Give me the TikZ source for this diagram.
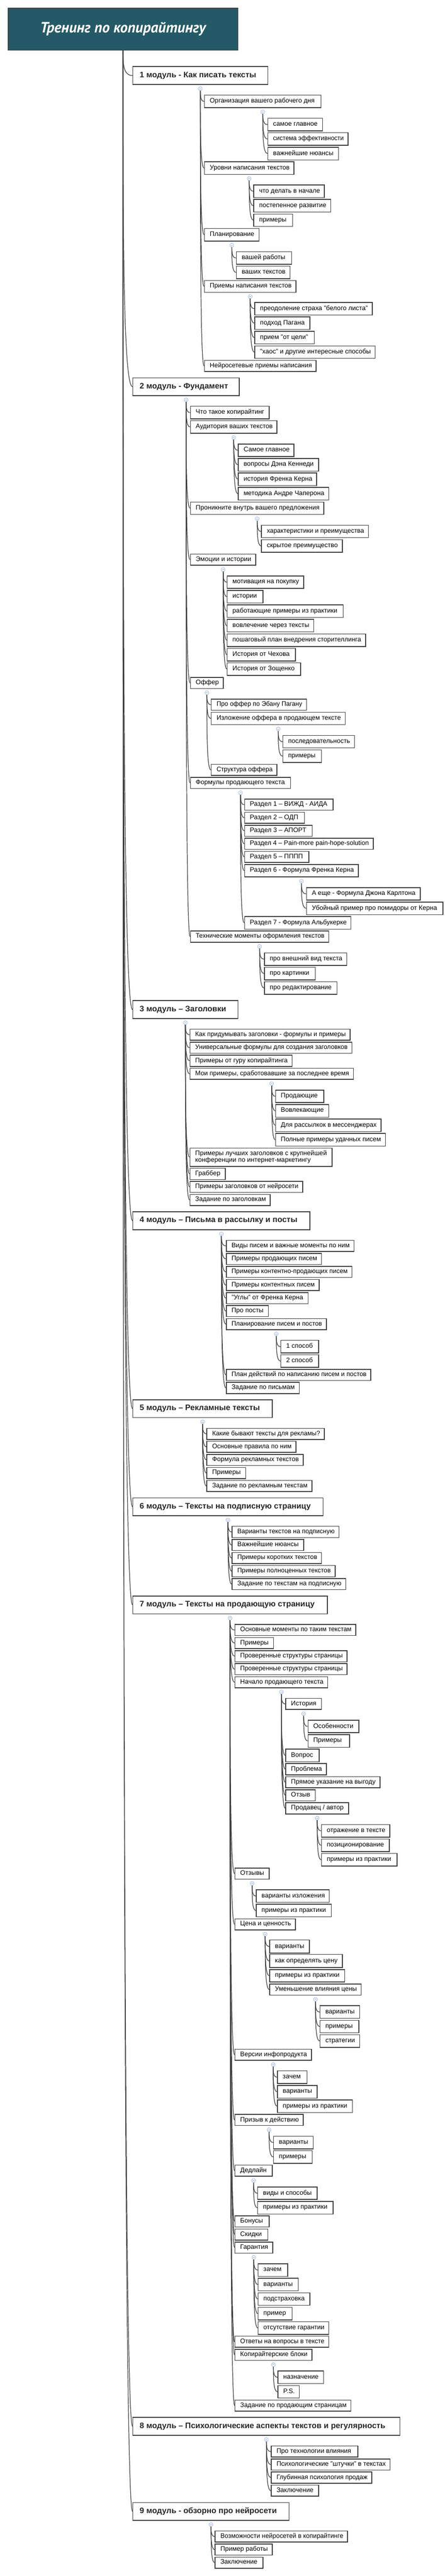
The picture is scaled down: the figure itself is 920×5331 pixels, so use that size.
\documentclass[tikz,border=0pt]{standalone}
\usepackage{fontspec}
\usepackage{graphicx}
\setmainfont{Liberation Sans}
\newfontfamily\titlefont{PT Sans}
\usetikzlibrary{calc}
\definecolor{linec}{HTML}{404040}
\definecolor{rootfill}{HTML}{245A67}
\definecolor{mkc}{HTML}{9DB1D8}
\newsavebox\tbox
\newcommand\fitt[2]{\sbox\tbox{#2}\ifdim\wd\tbox>#1\relax\resizebox{#1}{\height}{\usebox\tbox}\else\usebox\tbox\fi}
\tikzset{
 bx/.style={draw=linec, line width=1.6pt, fill=white, inner sep=0pt, anchor=north west, font=\fontsize{13.5}{16}\selectfont, text=black},
 bmod/.style={bx, font=\bfseries\fontsize{16.5}{19}\selectfont, text=black!85},
 cn/.style={draw=linec, line width=1.3pt, to path={.. controls ($(\tikztostart)!0.5!(\tikztostart|-\tikztotarget)$) and (\tikztostart|-\tikztotarget) .. (\tikztotarget)}},
 mk/.style={draw=mkc, line width=0.8pt}
}
\newcommand\bx[6]{\node[bx, minimum height={#5-#3}] (#1) at (#2,#3) {\makebox[\dimexpr#4pt-#2pt\relax][l]{\hspace{11pt}\rule[-3.5pt]{0pt}{13pt}\fitt{\dimexpr#4pt-#2pt-20pt\relax}{#6}}};}
\newcommand\bmd[6]{\node[bmod, minimum height={#5-#3}] (#1) at (#2,#3) {\makebox[\dimexpr#4pt-#2pt\relax][l]{\hspace{14pt}\rule[-4.5pt]{0pt}{16.5pt}\fitt{\dimexpr#4pt-#2pt-26pt\relax}{#6}}};}
\newcommand\kids[2]{\coordinate (#1-s) at ($(#1.south)+(0,8)$);
 \foreach \kid in {#2}{\draw[cn] (#1-s) to (\kid.west);}
 \draw[mk, fill=white] (#1-s) circle (4pt);
 \draw[mk] ($(#1-s)+(-2,0)$) -- ($(#1-s)+(2,0)$);}
\begin{document}
\begin{tikzpicture}[x=1pt,y=-1pt]
\fill[white] (0,0) rectangle (920,5331);
\useasboundingbox (0,0) rectangle (920,5331);
% root
\node[draw=linec, line width=1.6pt, fill=rootfill, inner sep=0pt, anchor=north west, minimum width=475pt, minimum height=87pt, text=white, font=\titlefont\bfseries\itshape\fontsize{31}{36}\selectfont] (root) at (16,16) {Тренинг по копирайтингу};
% modules
\bmd{m1}{274}{137}{553}{174}{1 модуль - Как писать тексты}
\bmd{m2}{274}{781}{494}{818}{2 модуль - Фундамент}
\bmd{m3}{274}{2070}{491}{2107}{3 модуль – Заголовки}
\bmd{m4}{274}{2507}{640}{2544}{4 модуль – Письма в рассылку и посты}
\bmd{m5}{274}{2896}{562}{2933}{5 модуль – Рекламные тексты}
\bmd{m6}{274}{3099}{667}{3136}{6 модуль – Тексты на подписную страницу}
\bmd{m7}{274}{3302}{676}{3339}{7 модуль – Тексты на продающую страницу}
\bmd{m8}{274}{5002}{826}{5039}{8 модуль – Психологические аспекты текстов и регулярность}
\bmd{m9}{274}{5178}{597}{5215}{9 модуль - обзорно про нейросети}
% module 1
\bx{a1}{422}{196}{663}{222}{Организация вашего рабочего дня}
\bx{a1a}{553}{244}{666}{270}{самое главное}
\bx{a1b}{553}{274}{719}{300}{система эффективности}
\bx{a1c}{553}{304}{699}{330}{важнейшие нюансы}
\bx{a2}{422}{334}{607}{360}{Уровни написания текстов}
\bx{a2a}{524}{382}{670}{408}{что делать в начале}
\bx{a2b}{524}{412}{683}{438}{постепенное развитие}
\bx{a2c}{524}{442}{604}{468}{примеры}
\bx{a3}{422}{472}{535}{498}{Планирование}
\bx{a3a}{488}{520}{602}{546}{вашей работы}
\bx{a3b}{488}{550}{599}{576}{ваших текстов}
\bx{a4}{422}{580}{611}{604}{Приемы написания текстов}
\bx{a4a}{526}{625}{769}{651}{преодоление страха "белого листа"}
\bx{a4b}{526}{655}{640}{681}{подход Пагана}
\bx{a4c}{526}{685}{649}{711}{прием "от цели"}
\bx{a4d}{526}{715}{775}{741}{"хаос" и другие интересные способы}
\bx{a5}{422}{745}{653}{768}{Нейросетевые приемы написания}
% module 2
\bx{b1}{393}{840}{556}{866}{Что такое копирайтинг}
\bx{b2}{393}{870}{572}{896}{Аудитория ваших текстов}
\bx{b2a}{492}{918}{607}{944}{Самое главное}
\bx{b2b}{492}{948}{658}{974}{вопросы Дэна Кеннеди}
\bx{b2c}{492}{978}{654}{1004}{история Френка Керна}
\bx{b2d}{492}{1008}{679}{1034}{методика Андре Чаперона}
\bx{b3}{393}{1038}{669}{1064}{Проникните внутрь вашего предложения}
\bx{b3a}{540}{1086}{761}{1112}{характеристики и преимущества}
\bx{b3b}{540}{1116}{707}{1142}{скрытое преимущество}
\bx{b4}{393}{1146}{528}{1169}{Эмоции и истории}
\bx{b4a}{469}{1191}{627}{1217}{мотивация на покупку}
\bx{b4b}{469}{1221}{543}{1247}{истории}
\bx{b4c}{469}{1251}{709}{1277}{работающие примеры из практики}
\bx{b4d}{469}{1281}{648}{1307}{вовлечение через тексты}
\bx{b4e}{469}{1311}{755}{1337}{пошаговый план внедрения сторителлинга}
\bx{b4f}{469}{1341}{610}{1367}{История от Чехова}
\bx{b4g}{469}{1371}{621}{1397}{История от Зощенко}
\bx{b5}{393}{1401}{461}{1424}{Оффер}
\bx{b5a}{436}{1446}{633}{1469}{Про оффер по Эбану Пагану}
\bx{b5b}{436}{1473}{713}{1499}{Изложение оффера в продающем тексте}
\bx{b5b1}{584}{1521}{732}{1547}{последовательность}
\bx{b5b2}{584}{1551}{664}{1577}{примеры}
\bx{b5c}{436}{1581}{572}{1604}{Структура оффера}
\bx{b6}{393}{1608}{600}{1631}{Формулы продающего текста}
\bx{b6a}{505}{1653}{688}{1676}{Раздел 1 – ВИЖД - АИДА}
\bx{b6b}{505}{1680}{629}{1703}{Раздел 2 – ОДП}
\bx{b6c}{505}{1707}{645}{1730}{Раздел 3 – АПОРТ}
\bx{b6d}{505}{1734}{771}{1757}{Раздел 4 – Pain-more pain-hope-solution}
\bx{b6e}{505}{1761}{638}{1784}{Раздел 5 – ПППП}
\bx{b6f}{505}{1788}{740}{1814}{Раздел 6 - Формула Френка Керна}
\bx{b6f1}{633}{1836}{868}{1862}{А еще - Формула Джона Карлтона}
\bx{b6f2}{633}{1866}{915}{1892}{Убойный пример про помидоры от Керна}
\bx{b6g}{505}{1896}{725}{1922}{Раздел 7 - Формула Альбукерке}
\bx{b7}{393}{1926}{679}{1949}{Технические моменты оформления текстов}
\bx{b7a}{546}{1971}{716}{1997}{про внешний вид текста}
\bx{b7b}{546}{2001}{651}{2027}{про картинки}
\bx{b7c}{546}{2031}{696}{2057}{про редактирование}
% module 3
\bx{c1}{392}{2129}{723}{2152}{Как придумывать заголовки - формулы и примеры}
\bx{c2}{392}{2156}{727}{2179}{Универсальные формулы для создания заголовков}
\bx{c3}{392}{2183}{603}{2206}{Примеры от гуру копирайтинга}
\bx{c4}{392}{2210}{730}{2233}{Мои примеры, сработовавшие за последнее время}
\bx{c4a}{569}{2255}{669}{2281}{Продающие}
\bx{c4b}{569}{2285}{679}{2311}{Вовлекающие}
\bx{c4c}{569}{2315}{787}{2341}{Для рассылкок в мессенджерах}
\bx{c4d}{569}{2345}{796}{2371}{Полные примеры удачных писем}
\node[bx, minimum height=38pt] (c5) at (392,2375) {\makebox[294pt][l]{\hspace{11pt}\fitt{274pt}{\begin{tabular}{@{}l@{}}\rule[-3.5pt]{0pt}{13pt}Примеры лучших заголовков с крупнейшей\\[-1.5pt]\rule[-3.5pt]{0pt}{13pt}конференции по интернет-маркетингу\end{tabular}}}};
\bx{c6}{392}{2417}{465}{2440}{Граббер}
\bx{c7}{392}{2444}{625}{2467}{Примеры заголовков от нейросети}
\bx{c8}{392}{2471}{558}{2494}{Задание по заголовкам}
% module 4
\bx{d1}{467}{2566}{731}{2589}{Виды писем и важные моменты по ним}
\bx{d2}{467}{2593}{664}{2616}{Примеры продающих писем}
\bx{d3}{467}{2620}{727}{2643}{Примеры контентно-продающих писем}
\bx{d4}{467}{2647}{659}{2670}{Примеры контентных писем}
\bx{d5}{467}{2674}{636}{2697}{"Углы" от Френка Керна}
\bx{d6}{467}{2701}{554}{2724}{Про посты}
\bx{d7}{467}{2728}{674}{2751}{Планирование писем и постов}
\bx{d7a}{580}{2773}{658}{2799}{1 способ}
\bx{d7b}{580}{2803}{658}{2829}{2 способ}
\bx{d8}{467}{2833}{766}{2856}{План действий по написанию писем и постов}
\bx{d9}{467}{2860}{618}{2883}{Задание по письмам}
% module 5
\bx{e1}{427}{2955}{670}{2978}{Какие бывают тексты для рекламы?}
\bx{e2}{427}{2982}{611}{3005}{Основные правила по ним}
\bx{e3}{427}{3009}{626}{3032}{Формула рекламных текстов}
\bx{e4}{427}{3036}{507}{3059}{Примеры}
\bx{e5}{427}{3063}{644}{3086}{Задание по рекламным текстам}
% module 6
\bx{f1}{479}{3158}{700}{3181}{Варианты текстов на подписную}
\bx{f2}{479}{3185}{627}{3208}{Важнейшие нюансы}
\bx{f3}{479}{3212}{664}{3235}{Примеры коротких текстов}
\bx{f4}{479}{3239}{692}{3262}{Примеры полноценных текстов}
\bx{f5}{479}{3266}{714}{3289}{Задание по текстам на подписную}
% module 7
\bx{g1}{485}{3361}{735}{3384}{Основные моменты по таким текстам}
\bx{g2}{485}{3388}{565}{3411}{Примеры}
\bx{g3}{485}{3415}{717}{3438}{Проверенные структуры страницы}
\bx{g4}{485}{3442}{717}{3465}{Проверенные структуры страницы}
\bx{g5}{485}{3469}{677}{3492}{Начало продающего текста}
\bx{g5a}{590}{3514}{664}{3537}{История}
\bx{g5a1}{636}{3559}{741}{3585}{Особенности}
\bx{g5a2}{636}{3589}{722}{3615}{Примеры}
\bx{g5b}{590}{3619}{659}{3645}{Вопрос}
\bx{g5c}{590}{3649}{674}{3672}{Проблема}
\bx{g5d}{590}{3676}{785}{3699}{Прямое указание на выгоду}
\bx{g5e}{590}{3703}{651}{3726}{Отзыв}
\bx{g5f}{590}{3730}{720}{3753}{Продавец / автор}
\bx{g5f1}{664}{3775}{805}{3801}{отражение в тексте}
\bx{g5f2}{664}{3805}{804}{3831}{позиционирование}
\bx{g5f3}{664}{3835}{820}{3861}{примеры из практики}
\bx{g6}{485}{3865}{556}{3888}{Отзывы}
\bx{g6a}{529}{3910}{680}{3936}{варианты изложения}
\bx{g6b}{529}{3940}{684}{3966}{примеры из практики}
\bx{g7}{485}{3970}{610}{3993}{Цена и ценность}
\bx{g7a}{557}{4014}{639}{4041}{варианты}
\bx{g7b}{557}{4044}{707}{4071}{как определять цену}
\bx{g7c}{557}{4075}{712}{4101}{примеры из практики}
\bx{g7d}{557}{4105}{746}{4128}{Уменьшение влияния цены}
\bx{g7d1}{661}{4150}{743}{4176}{варианты}
\bx{g7d2}{661}{4180}{741}{4206}{примеры}
\bx{g7d3}{661}{4210}{743}{4236}{стратегии}
\bx{g8}{485}{4240}{643}{4263}{Версии инфопродукта}
\bx{g8a}{573}{4285}{634}{4311}{зачем}
\bx{g8b}{573}{4315}{655}{4341}{варианты}
\bx{g8c}{573}{4345}{728}{4371}{примеры из практики}
\bx{g9}{485}{4375}{626}{4398}{Призыв к действию}
\bx{g9a}{565}{4420}{647}{4446}{варианты}
\bx{g9b}{565}{4450}{645}{4476}{примеры}
\bx{g10}{485}{4480}{562}{4503}{Дедлайн}
\bx{g10a}{532}{4525}{655}{4551}{виды и способы}
\bx{g10b}{532}{4555}{688}{4581}{примеры из практики}
\bx{g11}{485}{4585}{556}{4608}{Бонусы}
\bx{g12}{485}{4612}{553}{4635}{Скидки}
\bx{g13}{485}{4639}{563}{4662}{Гарантия}
\bx{g13a}{533}{4684}{594}{4710}{зачем}
\bx{g13b}{533}{4714}{616}{4740}{варианты}
\bx{g13c}{533}{4744}{640}{4770}{подстраховка}
\bx{g13d}{533}{4774}{603}{4800}{пример}
\bx{g13e}{533}{4804}{679}{4830}{отсутствие гарантии}
\bx{g14}{485}{4834}{679}{4857}{Ответы на вопросы в тексте}
\bx{g15}{485}{4861}{644}{4884}{Копирайтерские блоки}
\bx{g15a}{574}{4906}{668}{4932}{назначение}
\bx{g15b}{574}{4936}{618}{4962}{P.S.}
\bx{g16}{485}{4966}{725}{4989}{Задание по продающим страницам}
% module 8
\bx{h1}{560}{5061}{739}{5084}{Про технологии влияния}
\bx{h2}{560}{5088}{806}{5111}{Психологические "штучки" в текстах}
\bx{h3}{560}{5115}{768}{5138}{Глубинная психология продаж}
\bx{h4}{560}{5142}{658}{5165}{Заключение}
% module 9
\bx{i1}{444}{5237}{718}{5260}{Возможности нейросетей в копирайтинге}
\bx{i2}{444}{5264}{562}{5287}{Пример работы}
\bx{i3}{444}{5291}{543}{5314}{Заключение}
% connectors
\foreach \kid in {m1,m2,m3,m4,m5,m6,m7,m8,m9}{\draw[cn] (root.south) to (\kid.west);}
\kids{m1}{a1,a2,a3,a4,a5}
\kids{a1}{a1a,a1b,a1c}
\kids{a2}{a2a,a2b,a2c}
\kids{a3}{a3a,a3b}
\kids{a4}{a4a,a4b,a4c,a4d}
\kids{m2}{b1,b2,b3,b4,b5,b6,b7}
\kids{b2}{b2a,b2b,b2c,b2d}
\kids{b3}{b3a,b3b}
\kids{b4}{b4a,b4b,b4c,b4d,b4e,b4f,b4g}
\kids{b5}{b5a,b5b,b5c}
\kids{b5b}{b5b1,b5b2}
\kids{b6}{b6a,b6b,b6c,b6d,b6e,b6f,b6g}
\kids{b6f}{b6f1,b6f2}
\kids{b7}{b7a,b7b,b7c}
\kids{m3}{c1,c2,c3,c4,c5,c6,c7,c8}
\kids{c4}{c4a,c4b,c4c,c4d}
\kids{m4}{d1,d2,d3,d4,d5,d6,d7,d8,d9}
\kids{d7}{d7a,d7b}
\kids{m5}{e1,e2,e3,e4,e5}
\kids{m6}{f1,f2,f3,f4,f5}
\kids{m7}{g1,g2,g3,g4,g5,g6,g7,g8,g9,g10,g11,g12,g13,g14,g15,g16}
\kids{g5}{g5a,g5b,g5c,g5d,g5e,g5f}
\kids{g5a}{g5a1,g5a2}
\kids{g5f}{g5f1,g5f2,g5f3}
\kids{g6}{g6a,g6b}
\kids{g7}{g7a,g7b,g7c,g7d}
\kids{g7d}{g7d1,g7d2,g7d3}
\kids{g8}{g8a,g8b,g8c}
\kids{g9}{g9a,g9b}
\kids{g10}{g10a,g10b}
\kids{g13}{g13a,g13b,g13c,g13d,g13e}
\kids{g15}{g15a,g15b}
\kids{m8}{h1,h2,h3,h4}
\kids{m9}{i1,i2,i3}
\end{tikzpicture}
\end{document}
